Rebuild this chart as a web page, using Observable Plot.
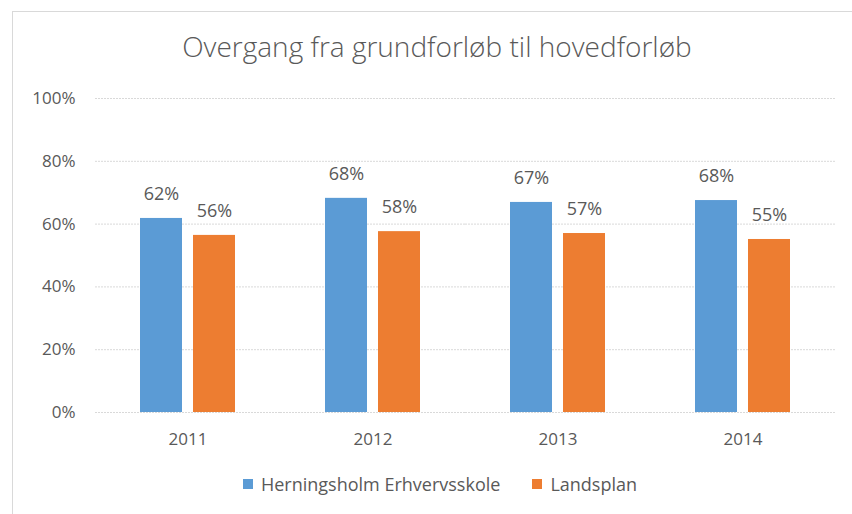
<!DOCTYPE html>
<html>
<head>
<meta charset="utf-8">
<script src="https://cdn.jsdelivr.net/npm/d3@7"></script>
<script src="https://cdn.jsdelivr.net/npm/@observablehq/plot@0.6"></script>
<style>
  html, body { margin: 0; padding: 0; background: #fff; }
  #wrap { position: relative; width: 852px; height: 514px; overflow: hidden; font-family: "Open Sans", sans-serif; color: #595959; }
  #frame { position: absolute; left: 12px; top: 11px; width: 850px; height: 510px; border-top: 1px solid #d9d9d9; border-left: 1px solid #d9d9d9; }
  #title { position: absolute; left: 0; top: 27px; width: 874px; text-align: center; font-size: 28px; font-weight: 300; color: #595959; }
  #chart { position: absolute; left: 0; top: 80px; }
  #legend { position: absolute; left: 0; top: 472px; width: 880px; display: flex; justify-content: center; gap: 32px; font-size: 18px; color: #595959; }
  .item { display: flex; align-items: center; gap: 8px; }
  .sw { width: 10px; height: 10px; display: inline-block; }
</style>
</head>
<body>
<div id="wrap">
  <div id="frame"></div>
  <div id="title">Overgang fra grundforløb til hovedforløb</div>
  <div id="chart"></div>
  <div id="legend"></div>
</div>
<script>
const years = ["2011", "2012", "2013", "2014"];
const seriesNames = ["Herningsholm Erhvervsskole", "Landsplan"];
const herningsholm = [0.618, 0.682, 0.669, 0.675];
const landsplan = [0.564, 0.576, 0.570, 0.551];
const labelsH = ["62%", "68%", "67%", "68%"];
const labelsL = ["56%", "58%", "57%", "55%"];
const colors = ["#5B9BD5", "#ED7D31"];
const yTicks = [0, 0.2, 0.4, 0.6, 0.8, 1.0];

const data = [];
years.forEach((yr, i) => {
  data.push({year: yr, series: seriesNames[0], value: herningsholm[i], label: labelsH[i]});
  data.push({year: yr, series: seriesNames[1], value: landsplan[i], label: labelsL[i]});
});

const plot = Plot.plot({
  width: 852,
  height: 380,
  marginLeft: 93,
  marginRight: 16,
  marginTop: 18,
  marginBottom: 48,
  style: {fontFamily: "Open Sans, sans-serif", fontSize: "17px", color: "#595959", background: "transparent"},
  fx: {domain: years, padding: 0, label: null},
  x: {domain: seriesNames, paddingInner: 0.2, paddingOuter: 0.84, axis: null},
  y: {domain: [0, 1], label: null},
  color: {domain: seriesNames, range: colors},
  marks: [
    Plot.gridY(yTicks, {stroke: "#d9d9d9", strokeOpacity: 1, strokeDasharray: "2,1", strokeWidth: 1}),
    Plot.axisY({ticks: yTicks, tickFormat: d3.format(".0%"), tickSize: 0, tickPadding: 20, fontSize: 17, label: null}),
    Plot.axisFx({anchor: "bottom", tickSize: 0, tickPadding: 20, fontSize: 17, label: null}),
    Plot.barY(data, {fx: "year", x: "series", y: "value", fill: "series"}),
    Plot.text(data, {fx: "year", x: "series", y: "value", text: "label", dy: -24, lineAnchor: "middle", fill: "#595959", fontSize: 18})
  ]
});
document.getElementById("chart").appendChild(plot);

const colorScale = plot.scale("color");
const legend = document.getElementById("legend");
seriesNames.forEach((name, i) => {
  const item = document.createElement("div");
  item.className = "item";
  const sw = document.createElement("span");
  sw.className = "sw";
  sw.style.background = colorScale.range[i];
  const t = document.createElement("span");
  t.textContent = name;
  item.appendChild(sw);
  item.appendChild(t);
  legend.appendChild(item);
});
</script>
</body>
</html>
